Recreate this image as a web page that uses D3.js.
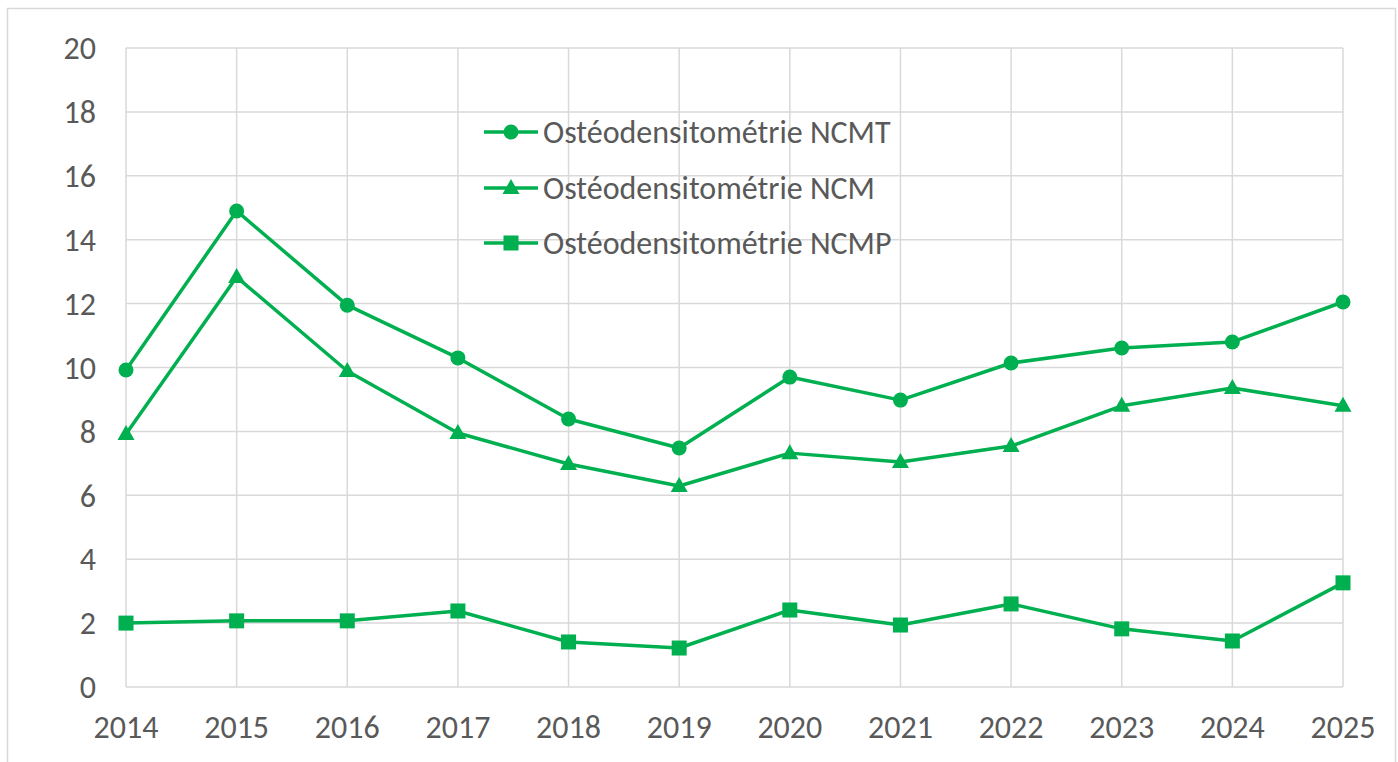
<!DOCTYPE html>
<html><head><meta charset="utf-8">
<script src="https://cdn.jsdelivr.net/npm/d3@7"></script>
<style>body{margin:0;background:#fff}svg{display:block}</style>
</head><body><svg id="c" width="1398" height="762"></svg>
<script>
const years = [2014,2015,2016,2017,2018,2019,2020,2021,2022,2023,2024,2025];
const ncmt = [9.92,14.9,11.95,10.3,8.39,7.48,9.7,8.98,10.14,10.61,10.8,12.05];
const ncm  = [7.92,12.83,9.89,7.95,6.98,6.29,7.32,7.04,7.54,8.8,9.36,8.8];
const ncmp = [2.0,2.07,2.07,2.38,1.41,1.22,2.41,1.94,2.6,1.82,1.44,3.26];
const yTicks = [0,2,4,6,8,10,12,14,16,18,20];
const seriesNames = ["Ostéodensitométrie NCMT","Ostéodensitométrie NCM","Ostéodensitométrie NCMP"];
const symbols = ["circle","triangle","square"];

const svg = d3.select("#c");
const color = "#00B050", grid = "#d9d9d9", txt = "#595959";
const font = "Carlito, Calibri, Lato, sans-serif";
const fs = 32;
const L=126,R=1343,T=48,B=687;
const x = d3.scalePoint().domain(years).range([L,R]);
const y = d3.scaleLinear().domain([0,20]).range([B,T]);

svg.append("rect").attr("x",7.5).attr("y",8.5).attr("width",1388).attr("height",770)
  .attr("fill","none").attr("stroke",grid).attr("stroke-width",1.5);

svg.append("g").selectAll("line").data(yTicks).join("line")
  .attr("x1",L).attr("x2",R).attr("y1",d=>y(d)).attr("y2",d=>y(d))
  .attr("stroke",grid).attr("stroke-width",1.5);
svg.append("g").selectAll("line").data(years).join("line")
  .attr("x1",d=>x(d)).attr("x2",d=>x(d)).attr("y1",T).attr("y2",B)
  .attr("stroke",grid).attr("stroke-width",1.5);

svg.append("g").selectAll("text").data(yTicks).join("text")
  .attr("x",96).attr("y",d=>y(d)).attr("dy","0.35em").attr("text-anchor","end")
  .attr("font-family",font).attr("font-size",fs).attr("fill",txt).text(d=>d);
svg.append("g").selectAll("text").data(years).join("text")
  .attr("x",d=>x(d)).attr("y",727).attr("dy","0.35em").attr("text-anchor","middle")
  .attr("font-family",font).attr("font-size",fs).attr("fill",txt).text(d=>d);

const data = [ncmt,ncm,ncmp];
const line = d3.line().x((d,i)=>x(years[i])).y(d=>y(d));
function marker(g, type, cx, cy){
  if(type==="circle") g.append("circle").attr("cx",cx).attr("cy",cy).attr("r",7.5).attr("fill",color);
  else if(type==="triangle") g.append("path").attr("d",`M${cx},${cy-9}L${cx+8.5},${cy+6}L${cx-8.5},${cy+6}Z`).attr("fill",color);
  else g.append("rect").attr("x",cx-7.5).attr("y",cy-7.5).attr("width",15).attr("height",15).attr("fill",color);
}
data.forEach((s,k)=>{
  const g = svg.append("g");
  g.append("path").datum(s).attr("d",line).attr("fill","none").attr("stroke",color).attr("stroke-width",3.5).attr("stroke-linejoin","round");
  s.forEach((v,i)=>marker(g,symbols[k],x(years[i]),y(v)));
});

const legY=[132,188,243];
seriesNames.forEach((n,k)=>{
  const g=svg.append("g");
  g.append("line").attr("x1",484).attr("x2",538).attr("y1",legY[k]).attr("y2",legY[k]).attr("stroke",color).attr("stroke-width",3.5);
  marker(g,symbols[k],511,legY[k]);
  g.append("text").attr("x",543).attr("y",legY[k]).attr("dy","0.35em").attr("font-family",font)
   .attr("font-size",fs).attr("fill",txt).text(n);
});
</script></body></html>
